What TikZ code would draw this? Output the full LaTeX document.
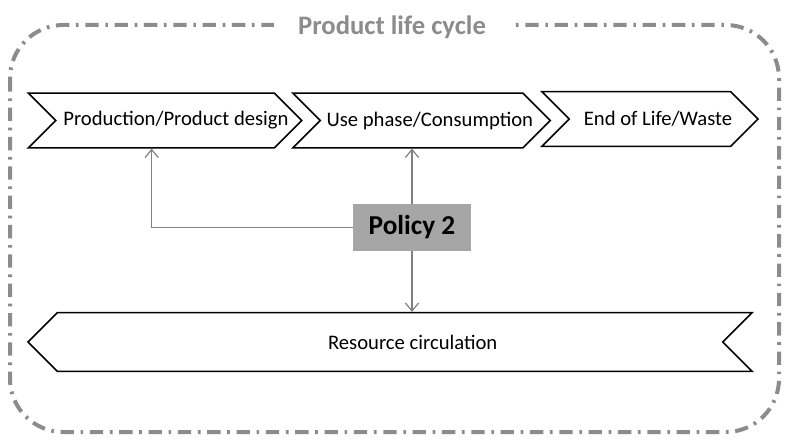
\documentclass[tikz,border=0pt]{standalone}
\usepackage{fontspec}
\setmainfont{Carlito}
\usetikzlibrary{shapes.symbols,arrows.meta}
\definecolor{lcgray}{HTML}{8C8C8C}
\definecolor{lcarrow}{HTML}{808080}
\definecolor{lcpolicy}{HTML}{A6A6A6}
\newcommand{\phasetext}[2]{\makebox[0pt]{\hspace{#1}#2}}

\begin{document}
\begin{tikzpicture}[x=0.75pt, y=-0.75pt,
  phase/.style={signal, signal from=west, signal to=east, signal pointer angle=90,
    draw=black, line width=1.2pt, fill=white, minimum height=41pt, inner sep=0pt,
    font=\fontsize{15.5}{17}\selectfont},
  policy/.style={fill=lcpolicy, minimum width=88pt, minimum height=35pt,
    font=\fontsize{20.5}{22}\selectfont\bfseries},
  link/.style={draw=lcarrow, line width=0.9pt, -{Straight Barb[length=6pt,width=10pt]}},
  frame/.style={draw=lcgray, line width=3pt, rounded corners=40pt,
    dash pattern=on 10pt off 5pt on 2pt off 5pt}]
\useasboundingbox (0,0) rectangle (789,442);
% outer frame with title
\draw[frame] (10,25) rectangle (779,432);
\node[fill=white, text=lcgray, inner xsep=18pt, font=\fontsize{20}{22}\selectfont\bfseries]
  (title) at (392,27) {Product life cycle};
% life cycle phases
\node[phase, minimum width=205pt] (prod) at (165,120.5) {\phasetext{16.5pt}{Production/Product design}};
\node[phase, minimum width=193pt] (use) at (421.5,120.5) {\phasetext{12.5pt}{Use phase/Consumption}};
\node[phase, minimum width=162pt] (eol) at (650,119) {\phasetext{12pt}{End of Life/Waste}};
\node[phase, signal from=east, signal to=west, minimum width=543pt, minimum height=44pt]
  (res) at (390,342) {\phasetext{34pt}{Resource circulation}};
% policy and its links
\node[policy] (pol) at (412,227.5) {Policy 2};
\draw[link] (pol.north) -- (pol.north |- use.south);
\draw[link] (pol.west) -| ([xshift=-10pt]prod.south);
\draw[link] (pol.south) -- (pol.south |- res.north);
\end{tikzpicture}
\end{document}
